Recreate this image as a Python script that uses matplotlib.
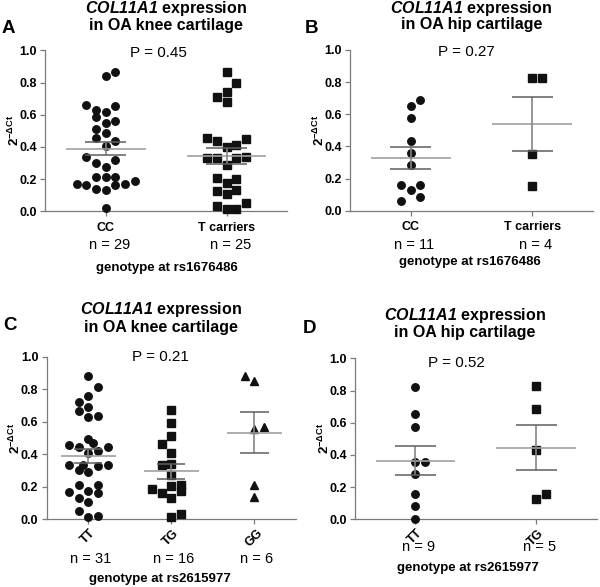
import matplotlib
matplotlib.use('Agg')
import matplotlib.pyplot as plt
import matplotlib.transforms as mtransforms
import numpy as np

plt.rcParams['font.family'] = ['Liberation Sans', 'DejaVu Sans']
plt.rcParams['mathtext.fontset'] = 'custom'
plt.rcParams['mathtext.rm'] = 'Liberation Sans'
plt.rcParams['mathtext.bf'] = 'Liberation Sans:bold'
plt.rcParams['mathtext.it'] = 'Liberation Sans:italic'
plt.rcParams['mathtext.bfit'] = 'Liberation Sans:bold:italic'

# --- data (2^-dCt per sample) ---
# A: knee, rs1676486
a_cc = [0.867, 0.84, 0.663, 0.629, 0.654, 0.588, 0.617, 0.551, 0.563, 0.509,
        0.484, 0.455, 0.439, 0.408, 0.335, 0.319, 0.298, 0.277, 0.211, 0.211,
        0.211, 0.172, 0.164, 0.141, 0.133, 0.164, 0.168, 0.186, 0.019]
a_cc_jit = [1, 0, -2, -1, 1, -1, 0, 0, 1, -1, 0, -1, 1, 0, -2, 1, -1, 0, -1, 0,
            1, -3, -2, -1, 0, 1, 2, 3, 0]
a_tc = [0.865, 0.799, 0.743, 0.708, 0.679, 0.455, 0.437, 0.447, 0.402, 0.41,
        0.333, 0.333, 0.333, 0.337, 0.288, 0.209, 0.203, 0.176, 0.124, 0.13,
        0.11, 0.033, 0.052, 0.012, 0.012]
a_tc_jit = [0, 1, 0, -1, 0, -2, -1, 2, 0, 1, -2, -1, 1, 2, 0, -1, 1, 0, -1, 1,
            0, -1, 2, 0, 1]

# B: hip, rs1676486
b_cc = [0.651, 0.689, 0.577, 0.436, 0.357, 0.286, 0.162, 0.162, 0.127, 0.087, 0.06]
b_cc_jit = [0, 1, 0, 0, 0, 0, -1, 1, 0, 1, -1]
b_tc = [0.824, 0.828, 0.355, 0.154]
b_tc_jit = [0, 1, 0, 0]

# C: knee, rs2615977
c_tt = [0.881, 0.816, 0.758, 0.721, 0.693, 0.664, 0.627, 0.635, 0.492, 0.467,
        0.455, 0.443, 0.447, 0.41, 0.418, 0.336, 0.336, 0.325, 0.336, 0.303,
        0.291, 0.213, 0.213, 0.168, 0.176, 0.164, 0.131, 0.109, 0.049, 0.016, 0.02]
c_tt_jit = [0, 1, 0, -1, 0, -1, 0, 1, 0, 0.5, -2, -1, 2, 0, 1, -2, -0.5, 1, 2, -1,
            0, -1, 1, -2, 0, 1, -1, 0, -1, 0, 1]
c_tg = [0.672, 0.594, 0.512, 0.463, 0.41, 0.334, 0.338, 0.275, 0.186, 0.16,
        0.205, 0.213, 0.172, 0.133, 0.012, 0.033]
c_tg_jit = [0, 0, 0, -1, 0, -1, 0, 0, -2, -1, 0, 1, 1, 0, 0, 1]
c_gg = [0.881, 0.848, 0.553, 0.57, 0.209, 0.139]
c_gg_jit = [-1, 0, 0, 1, 0, 0]

# D: hip, rs2615977
d_tt = [0.824, 0.652, 0.576, 0.354, 0.354, 0.28, 0.155, 0.085, 0.004]
d_tt_jit = [0, 0, 0, 0, 1, 0, 0, 0, 0]
d_tg = [0.828, 0.685, 0.431, 0.126, 0.157]
d_tg_jit = [0, 0, 0, 0, 1]

p_values = ['0.45', '0.27', '0.21', '0.52']

W, H = 600, 587
fig = plt.figure(figsize=(W / 100, H / 100), dpi=100)

panels = [
    dict(letter='A', tissue='knee', snp='rs1676486', cats=['CC', 'T carriers'],
         groups=[a_cc, a_tc], jit=[a_cc_jit, a_tc_jit], markers=['o', 's'],
         box=(45.3, 50.3, 287, 211.3), rot=False, px=0.44, py=0.985,
         ttl_x=0.5, ttl_y=(1.234, 1.126), n_y=-0.209, g_x=0.502, g_y=-0.352,
         let=(2, 33)),
    dict(letter='B', tissue='hip', snp='rs1676486', cats=['CC', 'T carriers'],
         groups=[b_cc, b_tc], jit=[b_cc_jit, b_tc_jit], markers=['o', 's'],
         box=(350, 50, 593, 210.7), rot=False, px=0.46, py=0.985,
         ttl_x=0.5, ttl_y=(1.232, 1.128), n_y=-0.213, g_x=0.494, g_y=-0.32,
         let=(305, 33)),
    dict(letter='C', tissue='knee', snp='rs2615977', cats=['TT', 'TG', 'GG'],
         groups=[c_tt, c_tg, c_gg], jit=[c_tt_jit, c_tg_jit, c_gg_jit],
         markers=['o', 's', '^'],
         box=(46.7, 356.7, 296, 519.3), rot=True, px=0.87, py=1.0,
         ttl_x=0.458, ttl_y=(1.263, 1.154), n_y=-0.246, g_x=0.455, g_y=-0.369,
         let=(3, 330)),
    dict(letter='D', tissue='hip', snp='rs2615977', cats=['TT', 'TG'],
         groups=[d_tt, d_tg], jit=[d_tt_jit, d_tg_jit], markers=['o', 's'],
         box=(355, 358.3, 596.7, 519.3), rot=True, px=0.34, py=0.97,
         ttl_x=0.455, ttl_y=(1.238, 1.134), n_y=-0.170, g_x=0.467, g_y=-0.302,
         let=(303, 333)),
]

mean_col = '#a0a0a0'
bar_col = '#858585'
cap_col = '#5e5e5e'
axis_col = '#7a7a7a'

for k, p in enumerate(panels):
    l, t, r, b = p['box']
    ax = fig.add_axes([l / W, 1 - b / H, (r - l) / W, (b - t) / H])
    ncat = len(p['cats'])
    ax.set_xlim(-0.5, ncat - 0.5)
    ax.set_ylim(0, 1.0)
    step = 9.7 / ((r - l) / ncat)  # jitter step in data units

    for i, (vals, jit, m) in enumerate(zip(p['groups'], p['jit'], p['markers'])):
        vals = np.array(vals)
        xs = i + np.array(jit) * step
        ms = 5.4 if m != '^' else 5.8
        ax.plot(xs, vals, linestyle='none', marker=m, ms=ms, color='#111111',
                mec='#111111', clip_on=False, zorder=3)
        mean = vals.mean()
        sem = vals.std(ddof=1) / np.sqrt(len(vals))
        ax.hlines(mean, i - 0.33, i + 0.33, color=mean_col, lw=1.2, zorder=4)
        ax.vlines(i, mean - sem, mean + sem, color=bar_col, lw=1.2, zorder=4)
        ax.hlines([mean - sem, mean + sem], i - 0.17, i + 0.17, color=cap_col,
                  lw=1.1, zorder=4)

    for s in ['top', 'right']:
        ax.spines[s].set_visible(False)
    for s in ['left', 'bottom']:
        ax.spines[s].set_color(axis_col)
        ax.spines[s].set_linewidth(0.9)
    ax.tick_params(colors=axis_col, length=3.5, width=0.9, labelcolor='black')
    ax.set_yticks(np.arange(0, 1.01, 0.2))
    ax.set_yticklabels(['%.1f' % v for v in np.arange(0, 1.01, 0.2)],
                       fontsize=9, fontweight='bold')
    ax.tick_params(axis='y', pad=2.5)
    ax.set_xticks(range(ncat))
    if p['rot']:
        ax.set_xticklabels(p['cats'], fontsize=9, fontweight='bold',
                           rotation=45, ha='center', va='top')
        ax.tick_params(axis='x', pad=2)
    else:
        ax.set_xticklabels(p['cats'], fontsize=9, fontweight='bold')
        ax.tick_params(axis='x', pad=4)

    ax.set_ylabel(r'2$^{\mathbf{-\Delta Ct}}$', fontsize=9.5, fontweight='bold')
    ax.yaxis.set_label_coords(-0.095, 0.5)

    ax.text(p['px'], p['py'], 'P = ' + p_values[k], transform=ax.transData,
            ha='center', va='center', fontsize=11)

    ax.text(p['ttl_x'], p['ttl_y'][0], r'$\mathbfit{COL11A1}$ expression',
            transform=ax.transAxes, ha='center', va='baseline', fontsize=11.5,
            fontweight='bold')
    ax.text(p['ttl_x'], p['ttl_y'][1], 'in OA ' + p['tissue'] + ' cartilage',
            transform=ax.transAxes, ha='center', va='baseline', fontsize=11.5,
            fontweight='bold')

    trans = mtransforms.blended_transform_factory(ax.transData, ax.transAxes)
    for i, vals in enumerate(p['groups']):
        ax.text(i + 0.03, p['n_y'], 'n = %d' % len(vals), transform=trans,
                ha='center', va='center', fontsize=10.5)
    ax.text(p['g_x'], p['g_y'], 'genotype at ' + p['snp'], transform=ax.transAxes,
            ha='center', va='center', fontsize=9.5, fontweight='bold')

    fig.text(p['let'][0] / W, 1 - p['let'][1] / H, p['letter'], ha='left',
             va='baseline', fontsize=13.5, fontweight='bold')

fig.savefig('out.png', dpi=100)
